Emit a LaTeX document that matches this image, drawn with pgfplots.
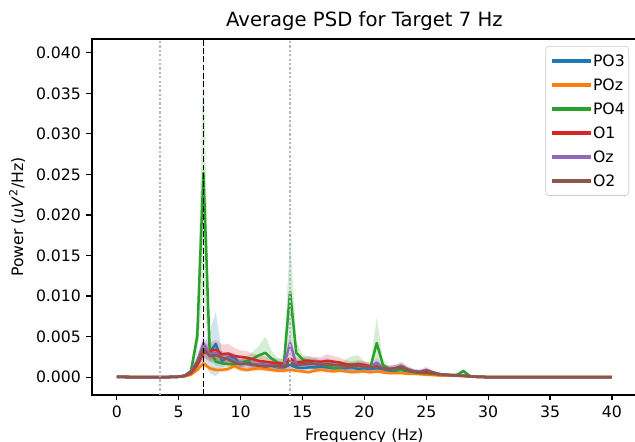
\documentclass[border=0pt]{standalone}
\usepackage{pgfplots}
\pgfplotsset{compat=1.18}
\usepackage{pgfplotstable}
\usepgfplotslibrary{fillbetween}
\usetikzlibrary{calc}
\usepackage{fontspec}
\setmainfont{DejaVu Sans}

\definecolor{tabblue}{RGB}{31,119,180}
\definecolor{taborange}{RGB}{255,127,14}
\definecolor{tabgreen}{RGB}{44,160,44}
\definecolor{tabred}{RGB}{214,39,40}
\definecolor{tabpurple}{RGB}{148,103,189}
\definecolor{tabbrown}{RGB}{140,86,75}
\definecolor{harm}{RGB}{178,188,200}

% f = frequency (Hz), m = mean power, s = spread of the shaded band
\pgfplotstableread{
f m s
0 0.00002 0.00001
2 0.00001 0.00001
4 0.00001 0.00001
4.5 0.00002 0.00001
5 0.00005 0.00002
5.5 0.00015 0.00005
6 0.0005 0.0002
6.5 0.0015 0.0005
7 0.0030 0.0008
7.5 0.0030 0.0025
8 0.0041 0.0040
8.5 0.0020 0.0010
9 0.0025 0.0006
9.5 0.0024 0.0006
10 0.0016 0.0005
10.5 0.0020 0.0005
11 0.0015 0.0005
11.5 0.0016 0.0005
12 0.0015 0.0005
12.5 0.0014 0.0004
13 0.0012 0.0004
13.5 0.0012 0.0004
14 0.0015 0.0005
14.5 0.0012 0.0004
15 0.0011 0.0004
15.5 0.0012 0.0004
16 0.0012 0.0004
16.5 0.0013 0.0004
17 0.0012 0.0004
17.5 0.0011 0.0004
18 0.0012 0.0004
18.5 0.0011 0.0004
19 0.0012 0.0004
19.5 0.0010 0.0003
20 0.0011 0.0004
20.5 0.0010 0.0003
21 0.0011 0.0004
21.5 0.0010 0.0003
22 0.0008 0.0003
22.5 0.0008 0.0003
23 0.0009 0.0003
23.5 0.0007 0.0002
24 0.0006 0.0002
24.5 0.00055 0.0002
25 0.0005 0.0002
25.5 0.0004 0.00015
26 0.0003 0.0001
26.5 0.00025 0.0001
27 0.0002 0.00008
27.5 0.0002 0.00008
28 0.00015 0.00006
28.5 0.0001 0.00004
29 0.00005 0.00002
29.5 0.00002 0.00001
30 0.00001 0.00001
32 0.00001 0.00001
34 0.00001 0.00001
36 0.00001 0.00001
38 0.00001 0.00001
40 0.00001 0.00001
}\tPOthree

\pgfplotstableread{
f m s
0 0.00002 0.00001
2 0.00001 0.00001
4 0.00001 0.00001
4.5 0.00002 0.00001
5 0.00003 0.00002
5.5 0.0001 0.00005
6 0.0003 0.0001
6.5 0.0009 0.0003
7 0.0017 0.0004
7.5 0.0011 0.0003
8 0.0009 0.0003
8.5 0.0009 0.0003
9 0.0010 0.0003
9.5 0.0014 0.0004
10 0.0010 0.0003
10.5 0.0009 0.0003
11 0.0010 0.0003
11.5 0.0011 0.0003
12 0.0010 0.0003
12.5 0.0009 0.0003
13 0.0008 0.0003
13.5 0.0008 0.0003
14 0.0009 0.0003
14.5 0.0008 0.0002
15 0.0007 0.0002
15.5 0.0006 0.0002
16 0.0008 0.0003
16.5 0.0009 0.0003
17 0.0008 0.0003
17.5 0.0007 0.0002
18 0.0008 0.0002
18.5 0.0007 0.0002
19 0.0006 0.0002
19.5 0.0007 0.0002
20 0.0007 0.0002
20.5 0.0006 0.0002
21 0.0007 0.0002
21.5 0.0006 0.0002
22 0.0005 0.0002
22.5 0.0005 0.0002
23 0.0005 0.0002
23.5 0.0004 0.0001
24 0.0004 0.0001
24.5 0.00035 0.0001
25 0.0003 0.0001
25.5 0.00025 0.0001
26 0.0002 0.00008
26.5 0.0002 0.00008
27 0.00015 0.00006
27.5 0.00015 0.00006
28 0.00012 0.00005
28.5 0.00008 0.00003
29 0.00004 0.00002
29.5 0.00002 0.00001
30 0.00001 0.00001
32 0.00001 0.00001
34 0.00001 0.00001
36 0.00001 0.00001
38 0.00001 0.00001
40 0.00001 0.00001
}\tPOz

\pgfplotstableread{
f m s
0 0.00002 0.00001
2 0.00001 0.00001
4 0.00001 0.00001
4.5 0.00002 0.00001
5 0.00005 0.00002
5.5 0.00015 0.00005
6 0.0008 0.0003
6.5 0.0050 0.0020
7 0.0252 0.0145
7.5 0.0035 0.0015
8 0.0019 0.0005
8.5 0.0017 0.0004
9 0.0016 0.0004
9.5 0.0016 0.0005
10 0.0017 0.0005
10.5 0.0020 0.0006
11 0.0023 0.0008
11.5 0.0027 0.0012
12 0.0030 0.0020
12.5 0.0023 0.0010
13 0.0018 0.0005
13.5 0.0017 0.0006
14 0.0105 0.0070
14.5 0.0030 0.0015
15 0.0022 0.0006
15.5 0.0020 0.0005
16 0.0019 0.0004
16.5 0.0016 0.0004
17 0.0014 0.0004
17.5 0.0011 0.0003
18 0.0011 0.0004
18.5 0.0015 0.0007
19 0.0016 0.0010
19.5 0.0015 0.0012
20 0.0013 0.0006
20.5 0.0013 0.0005
21 0.0042 0.0032
21.5 0.0015 0.0007
22 0.0010 0.0003
22.5 0.0009 0.0003
23 0.0009 0.0003
23.5 0.0008 0.0002
24 0.0006 0.0002
24.5 0.0005 0.0002
25 0.0005 0.0002
25.5 0.0004 0.0001
26 0.00035 0.0001
26.5 0.0003 0.0001
27 0.00025 0.0001
27.5 0.0003 0.0001
28 0.00075 0.0003
28.5 0.00015 0.0001
29 0.00005 0.00003
29.5 0.00002 0.00001
30 0.00001 0.00001
32 0.00001 0.00001
34 0.00001 0.00001
36 0.00001 0.00001
38 0.00001 0.00001
40 0.00001 0.00001
}\tPOfour

\pgfplotstableread{
f m s
0 0.00002 0.00001
2 0.00001 0.00001
4 0.00001 0.00001
4.5 0.00002 0.00001
5 0.00005 0.00002
5.5 0.00015 0.00005
6 0.0005 0.0002
6.5 0.0015 0.0005
7 0.0030 0.0008
7.5 0.0032 0.0010
8 0.0034 0.0012
8.5 0.0028 0.0012
9 0.0029 0.0012
9.5 0.0026 0.0010
10 0.0025 0.0008
10.5 0.0024 0.0008
11 0.0022 0.0007
11.5 0.0020 0.0007
12 0.0019 0.0006
12.5 0.0018 0.0006
13 0.0017 0.0006
13.5 0.0016 0.0006
14 0.0023 0.0008
14.5 0.0018 0.0006
15 0.0019 0.0006
15.5 0.0020 0.0006
16 0.0019 0.0006
16.5 0.0019 0.0006
17 0.0020 0.0008
17.5 0.0019 0.0007
18 0.0018 0.0006
18.5 0.0016 0.0005
19 0.0014 0.0005
19.5 0.0016 0.0005
20 0.0015 0.0005
20.5 0.0013 0.0004
21 0.0014 0.0005
21.5 0.0011 0.0004
22 0.0010 0.0004
22.5 0.0011 0.0004
23 0.0012 0.0004
23.5 0.0009 0.0003
24 0.0007 0.0003
24.5 0.0006 0.0002
25 0.0006 0.0002
25.5 0.0005 0.0002
26 0.00035 0.00015
26.5 0.0003 0.0001
27 0.00025 0.0001
27.5 0.0002 0.00008
28 0.0002 0.00008
28.5 0.0001 0.00004
29 0.00005 0.00002
29.5 0.00002 0.00001
30 0.00001 0.00001
32 0.00001 0.00001
34 0.00001 0.00001
36 0.00001 0.00001
38 0.00001 0.00001
40 0.00001 0.00001
}\tOone

\pgfplotstableread{
f m s
0 0.00002 0.00001
2 0.00001 0.00001
4 0.00001 0.00001
4.5 0.00002 0.00001
5 0.00005 0.00002
5.5 0.0002 0.0001
6 0.0007 0.0003
6.5 0.0020 0.0007
7 0.0042 0.0012
7.5 0.0028 0.0008
8 0.0030 0.0008
8.5 0.0023 0.0007
9 0.0024 0.0007
9.5 0.0019 0.0006
10 0.0018 0.0006
10.5 0.0016 0.0005
11 0.0015 0.0005
11.5 0.0016 0.0005
12 0.0014 0.0005
12.5 0.0015 0.0005
13 0.0013 0.0005
13.5 0.0014 0.0005
14 0.0042 0.0012
14.5 0.0016 0.0006
15 0.0015 0.0005
15.5 0.0016 0.0006
16 0.0017 0.0007
16.5 0.0016 0.0006
17 0.0017 0.0007
17.5 0.0015 0.0006
18 0.0014 0.0005
18.5 0.0013 0.0005
19 0.0012 0.0005
19.5 0.0014 0.0005
20 0.0013 0.0005
20.5 0.0012 0.0004
21 0.0018 0.0006
21.5 0.0011 0.0004
22 0.0010 0.0004
22.5 0.0011 0.0004
23 0.0014 0.0005
23.5 0.0010 0.0004
24 0.0007 0.0003
24.5 0.0007 0.0003
25 0.0009 0.0004
25.5 0.0006 0.0003
26 0.0004 0.00015
26.5 0.0003 0.0001
27 0.00025 0.0001
27.5 0.0002 0.00008
28 0.0002 0.00008
28.5 0.0001 0.00004
29 0.00005 0.00002
29.5 0.00002 0.00001
30 0.00001 0.00001
32 0.00001 0.00001
34 0.00001 0.00001
36 0.00001 0.00001
38 0.00001 0.00001
40 0.00001 0.00001
}\tOz

\pgfplotstableread{
f m s
0 0.00002 0.00001
2 0.00001 0.00001
4 0.00001 0.00001
4.5 0.00002 0.00001
5 0.00005 0.00002
5.5 0.0002 0.0001
6 0.0006 0.0002
6.5 0.0018 0.0006
7 0.0035 0.0009
7.5 0.0026 0.0008
8 0.0027 0.0008
8.5 0.0024 0.0008
9 0.0022 0.0007
9.5 0.0018 0.0006
10 0.0016 0.0005
10.5 0.0017 0.0005
11 0.0015 0.0005
11.5 0.0014 0.0005
12 0.0013 0.0005
12.5 0.0014 0.0005
13 0.0014 0.0005
13.5 0.0013 0.0005
14 0.0018 0.0006
14.5 0.0015 0.0005
15 0.0016 0.0005
15.5 0.0017 0.0006
16 0.0016 0.0006
16.5 0.0015 0.0005
17 0.0016 0.0006
17.5 0.0015 0.0006
18 0.0015 0.0005
18.5 0.0013 0.0005
19 0.0013 0.0005
19.5 0.0014 0.0005
20 0.0013 0.0005
20.5 0.0012 0.0004
21 0.0013 0.0004
21.5 0.0011 0.0004
22 0.0010 0.0004
22.5 0.0011 0.0004
23 0.0013 0.0005
23.5 0.0009 0.0003
24 0.0007 0.0003
24.5 0.0006 0.0002
25 0.0008 0.0003
25.5 0.0006 0.0002
26 0.0004 0.00015
26.5 0.0003 0.0001
27 0.00025 0.0001
27.5 0.0002 0.00008
28 0.00015 0.00006
28.5 0.0001 0.00004
29 0.00005 0.00002
29.5 0.00002 0.00001
30 0.00001 0.00001
32 0.00001 0.00001
34 0.00001 0.00001
36 0.00001 0.00001
38 0.00001 0.00001
40 0.00001 0.00001
}\tOtwo

\begin{document}
\begin{tikzpicture}
\begin{axis}[
    name=ax,
    scale only axis,
    width=347pt, height=226.75pt,
    xmin=-2, xmax=42,
    ymin=-0.0022, ymax=0.0417,
    xtick={0,5,10,15,20,25,30,35,40},
    ytick={0,0.005,0.010,0.015,0.020,0.025,0.030,0.035,0.040},
    scaled y ticks=false,
    yticklabel style={/pgf/number format/.cd, fixed, fixed zerofill, precision=3},
    /pgf/number format/assume math mode=true,
    ticklabel style={font=\fontsize{10}{12}\selectfont},
    tick align=outside,
    tick pos=left,
    major tick length=3.5pt,
    every tick/.style={black, line width=0.8pt},
    axis line style={line width=0.8pt},
    title={Average PSD for Target 7 Hz},
    title style={font=\fontsize{12.5}{14}\selectfont, yshift=-4pt},
    xlabel={Frequency (Hz)},
    ylabel={Power (\textit{uV}\textsuperscript{2}/Hz)},
    label style={font=\fontsize{10}{12}\selectfont},
    legend cell align=left,
    legend image code/.code={\draw[#1, line width=2.6pt] (0pt,0pt) -- (25pt,0pt);},
    legend style={at={(rel axis cs:1,1)}, xshift=-4.9pt, yshift=-4.5pt,
        anchor=north east, draw={rgb,255:red,204;green,204;blue,204},
        rounded corners=2pt, fill=white, fill opacity=0.8, text opacity=1,
        font=\fontsize{10}{12}\selectfont, inner xsep=2.5pt, inner ysep=5.6pt,
        row sep=8pt, nodes={inner sep=0pt, text height=7.3pt, text depth=0pt},
        /tikz/every even column/.style={column sep=7pt}},
    line join=round,
]

% shaded bands
\addplot[draw=none, forget plot, name path=aU] table[x=f, y expr=\thisrow{m}+\thisrow{s}] {\tPOthree};
\addplot[draw=none, forget plot, name path=aL] table[x=f, y expr=\thisrow{m}-\thisrow{s}] {\tPOthree};
\addplot[tabblue, fill opacity=0.2, draw=none, forget plot] fill between[of=aU and aL];
\addplot[draw=none, forget plot, name path=bU] table[x=f, y expr=\thisrow{m}+\thisrow{s}] {\tPOz};
\addplot[draw=none, forget plot, name path=bL] table[x=f, y expr=\thisrow{m}-\thisrow{s}] {\tPOz};
\addplot[taborange, fill opacity=0.2, draw=none, forget plot] fill between[of=bU and bL];
\addplot[draw=none, forget plot, name path=cU] table[x=f, y expr=\thisrow{m}+\thisrow{s}] {\tPOfour};
\addplot[draw=none, forget plot, name path=cL] table[x=f, y expr=\thisrow{m}-\thisrow{s}] {\tPOfour};
\addplot[tabgreen, fill opacity=0.2, draw=none, forget plot] fill between[of=cU and cL];
\addplot[draw=none, forget plot, name path=dU] table[x=f, y expr=\thisrow{m}+\thisrow{s}] {\tOone};
\addplot[draw=none, forget plot, name path=dL] table[x=f, y expr=\thisrow{m}-\thisrow{s}] {\tOone};
\addplot[tabred, fill opacity=0.2, draw=none, forget plot] fill between[of=dU and dL];
\addplot[draw=none, forget plot, name path=eU] table[x=f, y expr=\thisrow{m}+\thisrow{s}] {\tOz};
\addplot[draw=none, forget plot, name path=eL] table[x=f, y expr=\thisrow{m}-\thisrow{s}] {\tOz};
\addplot[tabpurple, fill opacity=0.2, draw=none, forget plot] fill between[of=eU and eL];
\addplot[draw=none, forget plot, name path=gU] table[x=f, y expr=\thisrow{m}+\thisrow{s}] {\tOtwo};
\addplot[draw=none, forget plot, name path=gL] table[x=f, y expr=\thisrow{m}-\thisrow{s}] {\tOtwo};
\addplot[tabbrown, fill opacity=0.2, draw=none, forget plot] fill between[of=gU and gL];

% mean lines
\addplot[tabblue, line width=1.6pt] table[x=f, y=m] {\tPOthree};
\addplot[taborange, line width=1.6pt] table[x=f, y=m] {\tPOz};
\addplot[tabgreen, line width=1.6pt] table[x=f, y=m] {\tPOfour};
\addplot[tabred, line width=1.6pt] table[x=f, y=m] {\tOone};
\addplot[tabpurple, line width=1.6pt] table[x=f, y=m] {\tOz};
\addplot[tabbrown, line width=1.6pt] table[x=f, y=m] {\tOtwo};
\legend{PO3, POz, PO4, O1, Oz, O2}

% target and harmonic markers
\addplot[forget plot, harm, line width=0.9pt, dash pattern=on 1.5pt off 1.3pt] coordinates {(3.5,-0.0022) (3.5,0.0417)};
\addplot[forget plot, harm, line width=0.9pt, dash pattern=on 1.5pt off 1.3pt] coordinates {(14,-0.0022) (14,0.0417)};
\addplot[forget plot, black, line width=0.9pt, dash pattern=on 3.7pt off 1.6pt] coordinates {(7,-0.0022) (7,0.0417)};
\end{axis}
\pgfresetboundingbox
\path[use as bounding box] ($(ax.south west)+(-58.6pt,-29.94pt)$) rectangle ($(ax.north east)+(-1.11pt,24.84pt)$);
\end{tikzpicture}
\end{document}
